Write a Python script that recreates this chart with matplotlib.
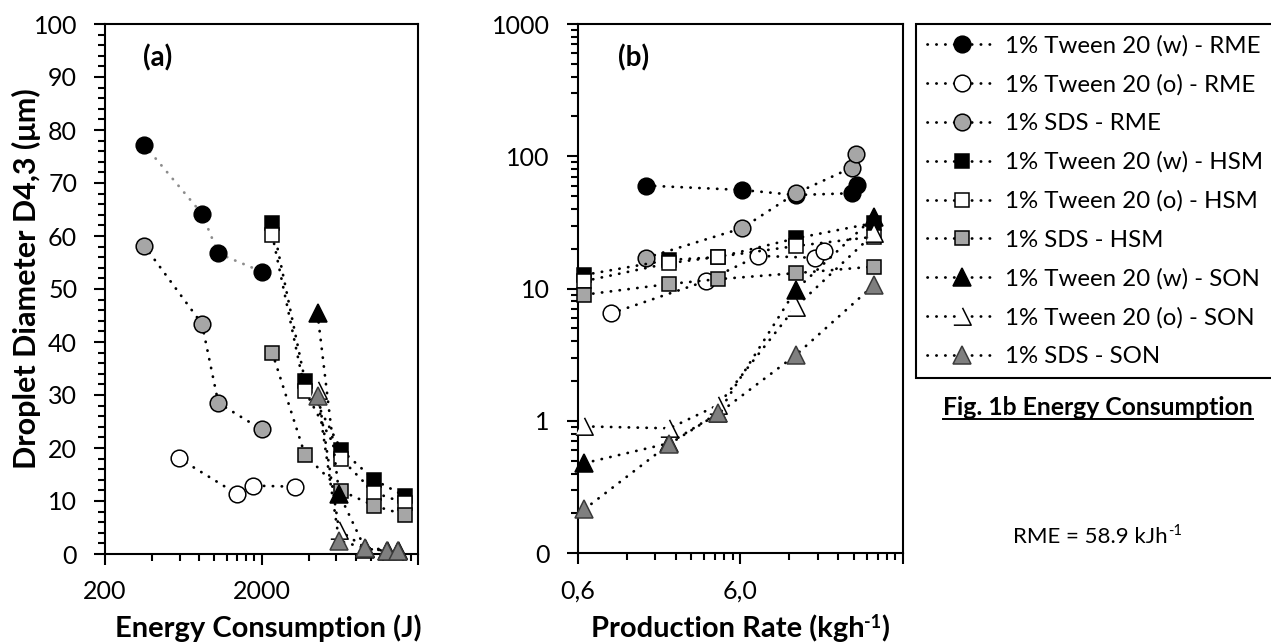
import matplotlib
matplotlib.use('Agg')
import matplotlib.pyplot as plt
from matplotlib.ticker import FixedLocator, FixedFormatter, LogLocator, NullFormatter, FuncFormatter, MultipleLocator
from matplotlib.path import Path
from matplotlib.lines import Line2D

plt.rcParams['font.family'] = ['Lato', 'DejaVu Sans']

# ---------------- data ----------------
labels = ['1% Tween 20 (w) - RME', '1% Tween 20 (o) - RME', '1% SDS - RME',
          '1% Tween 20 (w) - HSM', '1% Tween 20 (o) - HSM', '1% SDS - HSM',
          '1% Tween 20 (w) - SON', '1% Tween 20 (o) - SON', '1% SDS - SON']

# panel (a): energy consumption (J) vs droplet diameter (um)
energy_rme = [356, 833, 1060, 2000]
energy_rme_o = [590, 1397, 1758, 3289]
energy_hsm = [2343, 3792, 6487, 10495, 16510]
energy_son = [4560, 6262, 9186, 12600, 14950]

a_tw_w_rme = [77.2, 64.2, 56.7, 53.3]
a_tw_o_rme = [18.1, 11.3, 12.9, 12.7]
a_sds_rme = [58.2, 43.4, 28.5, 23.5]
a_tw_w_hsm = [62.5, 32.7, 19.6, 14.0, 10.9]
a_tw_o_hsm = [60.2, 30.8, 17.9, 11.6, 9.6]
a_sds_hsm = [38.0, 18.7, 11.9, 9.1, 7.4]
a_tw_w_son = [45.4, 11.4, 1.0, 0.6, 0.5]
a_tw_o_son = [31.0, 4.5, 1.2, 0.8, 0.7]
a_sds_son = [29.8, 2.5, 1.1, 0.6, 0.6]

# panel (b): production rate (kg/h) vs droplet diameter (um)
rate_rme_w = [1.58, 6.15, 13.2, 29.2, 31.4]
rate_rme_o = [0.962, 3.69, 7.76, 17.2, 19.8]
rate_rme_sds = [1.58, 6.15, 13.2, 29.2, 31.0]
rate_hsm = [0.659, 2.20, 4.40, 13.2, 40.1]
rate_son = [0.659, 2.20, 4.40, 13.2, 40.1]

b_tw_w_rme = [60.1, 55.7, 51.0, 52.6, 60.8]
b_tw_o_rme = [6.5, 11.4, 17.7, 17.1, 19.3]
b_sds_rme = [17.1, 28.6, 52.6, 82.2, 103.7]
b_tw_w_hsm = [12.7, 16.5, 17.3, 24.0, 31.4]
b_tw_o_hsm = [11.4, 15.6, 17.4, 21.0, 24.7]
b_sds_hsm = [9.0, 10.85, 11.8, 13.1, 14.7]
b_tw_w_son = [0.48, 0.68, 1.15, 9.8, 35.0]
b_tw_o_son = [0.91, 0.88, 1.32, 7.3, 26.2]
b_sds_son = [0.215, 0.67, 1.14, 3.15, 10.7]

a_x_ticks = [200, 2000, 20000]
a_x_ticklabels = ['200', '2000', '']
b_x_ticks = [0.6, 6.0, 60.0]
b_x_ticklabels = ['0,6', '6,0', '']

# ---------------- styles ----------------
GRAY = '#A6A6A6'
DGRAY = '#7F7F7F'
open_tri = Path([(0, 1), (1, -1), (-1, -1)], [Path.MOVETO, Path.LINETO, Path.LINETO])
ms_c, ms_s, ms_t = 12, 10, 12.5
styles = [
    dict(marker='o', mfc='black', mec='black', ms=ms_c),
    dict(marker='o', mfc='white', mec='black', ms=ms_c),
    dict(marker='o', mfc=GRAY, mec='black', ms=ms_c),
    dict(marker='s', mfc='black', mec='black', ms=ms_s),
    dict(marker='s', mfc='white', mec='black', ms=ms_s),
    dict(marker='s', mfc=GRAY, mec='black', ms=ms_s),
    dict(marker='^', mfc='black', mec='black', ms=ms_t),
    dict(marker=open_tri, mfc='white', mec='black', ms=ms_t),
    dict(marker='^', mfc=DGRAY, mec='#3a3a3a', ms=ms_t),
]
LS = (0, (0.1, 3.1))
line_kw = dict(ls=LS, lw=2.0, dash_capstyle='round', mew=1.1)

W, H = 1271, 644
fig = plt.figure(figsize=(W / 100, H / 100), dpi=100)
axa = fig.add_axes([105 / W, 1 - 554 / H, (418 - 105) / W, (554 - 24) / H])
axb = fig.add_axes([577.7 / W, 1 - 553.3 / H, (902.7 - 577.7) / W, (553.3 - 24) / H])

series_a = [(energy_rme, a_tw_w_rme), (energy_rme_o, a_tw_o_rme), (energy_rme, a_sds_rme),
            (energy_hsm, a_tw_w_hsm), (energy_hsm, a_tw_o_hsm), (energy_hsm, a_sds_hsm),
            (energy_son, a_tw_w_son), (energy_son, a_tw_o_son), (energy_son, a_sds_son)]
series_b = [(rate_rme_w, b_tw_w_rme), (rate_rme_o, b_tw_o_rme), (rate_rme_sds, b_sds_rme),
            (rate_hsm, b_tw_w_hsm), (rate_hsm, b_tw_o_hsm), (rate_hsm, b_sds_hsm),
            (rate_son, b_tw_w_son), (rate_son, b_tw_o_son), (rate_son, b_sds_son)]

for i, (x, y) in enumerate(series_a):
    col = '#8c8c8c' if i == 0 else 'black'
    axa.plot(x, y, color=col, **line_kw, **styles[i], clip_on=False, zorder=3 + i * 0.01)

handles = []
for i, (x, y) in enumerate(series_b):
    h, = axb.plot(x, y, color='black', **line_kw, **styles[i], clip_on=False, zorder=3 + i * 0.01)
    handles.append(h)

# ---------------- axes formatting ----------------
for ax in (axa, axb):
    for sp in ax.spines.values():
        sp.set_linewidth(1.5)
    ax.tick_params(which='major', direction='out', length=8, width=1.5,
                   labelsize=18, top=False, right=False)
    ax.tick_params(which='minor', direction='out', length=5, width=1.5,
                   top=False, right=False)
    ax.tick_params(axis='x', which='major', pad=11)
    ax.tick_params(axis='y', which='major', pad=12)

axa.set_xscale('log')
axa.set_xlim(200, 20000)
axa.set_ylim(0, 100)
axa.xaxis.set_major_locator(FixedLocator(a_x_ticks))
axa.xaxis.set_major_formatter(FixedFormatter(a_x_ticklabels))
axa.xaxis.set_minor_locator(FixedLocator([b * k for b in (200, 2000) for k in range(2, 10)]))
axa.xaxis.set_minor_formatter(NullFormatter())
axa.yaxis.set_major_locator(MultipleLocator(10))
axa.yaxis.set_minor_locator(MultipleLocator(2))

axb.set_xscale('log')
axb.set_yscale('log')
axb.set_xlim(0.6, 60)
axb.set_ylim(0.1, 1000)
axb.xaxis.set_major_locator(FixedLocator(b_x_ticks))
axb.xaxis.set_major_formatter(FixedFormatter(b_x_ticklabels))
axb.xaxis.set_minor_locator(FixedLocator([b * k for b in (0.6, 6.0) for k in range(2, 10)]))
axb.xaxis.set_minor_formatter(NullFormatter())
axb.yaxis.set_major_locator(LogLocator(base=10))
axb.yaxis.set_major_formatter(FuncFormatter(lambda v, p: f'{v:.0f}'))
axb.yaxis.set_minor_locator(LogLocator(base=10, subs=range(2, 10)))
axb.yaxis.set_minor_formatter(NullFormatter())

axa.text(0.12, 0.936, '(a)', transform=axa.transAxes, fontsize=20, fontweight='bold', ha='left', va='center')
axb.text(0.125, 0.936, '(b)', transform=axb.transAxes, fontsize=20, fontweight='bold', ha='left', va='center')

# ---------------- legend ----------------
leg = fig.legend(handles, labels, loc='upper left',
                 bbox_to_anchor=(916 / W, 0, (1290 - 916) / W, 1 - 24 / H),
                 bbox_transform=fig.transFigure, mode='expand',
                 frameon=True, fancybox=False, edgecolor='black', framealpha=1,
                 fontsize=17.3, handlelength=2.9, handletextpad=0.35, labelspacing=0.73,
                 borderpad=0.45, borderaxespad=0)
leg.get_frame().set_linewidth(1.5)

# ---------------- free texts ----------------
fig.canvas.draw()
renderer = fig.canvas.get_renderer()


def px_text(x, y, s, **kw):
    return fig.text(x / W, 1 - y / H, s, **kw)


def compose(xc, y_base, parts):
    """parts: list of (string, fontsize, weight, raise_px); centred at xc, baseline y_base (px from top)"""
    objs = []
    for s, fs, wt, dy in parts:
        t = px_text(0, y_base - dy, s, fontsize=fs, fontweight=wt, ha='left', va='baseline')
        objs.append(t)
    widths = [t.get_window_extent(renderer).width for t in objs]
    x = xc - sum(widths) / 2
    for t, w in zip(objs, widths):
        pos = t.get_position()
        t.set_position((x / W, pos[1]))
        x += w
    return objs


ylab = px_text(26, 279, 'Droplet Diameter D4,3 (\u03bcm)', fontsize=22, fontweight='bold',
               rotation=90, ha='center', va='center')
compose(268, 637, [('Energy Consumption (J)', 21, 'bold', 0)])
compose(740, 637, [('Production Rate (kgh', 21, 'bold', 0), ('-1', 13, 'bold', 9), (')', 21, 'bold', 0)])

t1 = px_text(1098, 415, 'Fig. 1b Energy Consumption', fontsize=17.8, fontweight='bold',
             ha='center', va='baseline')
compose(1097.5, 543, [('RME = 58.9 kJh', 16, 'normal', 0), ('-1', 10.5, 'normal', 8)])

bb = t1.get_window_extent(renderer)
uy = H - 418.5
fig.add_artist(Line2D([bb.x0 / W, bb.x1 / W], [uy / H, uy / H], transform=fig.transFigure,
                      color='black', lw=1.4))

fig.savefig('out.png', dpi=100)
